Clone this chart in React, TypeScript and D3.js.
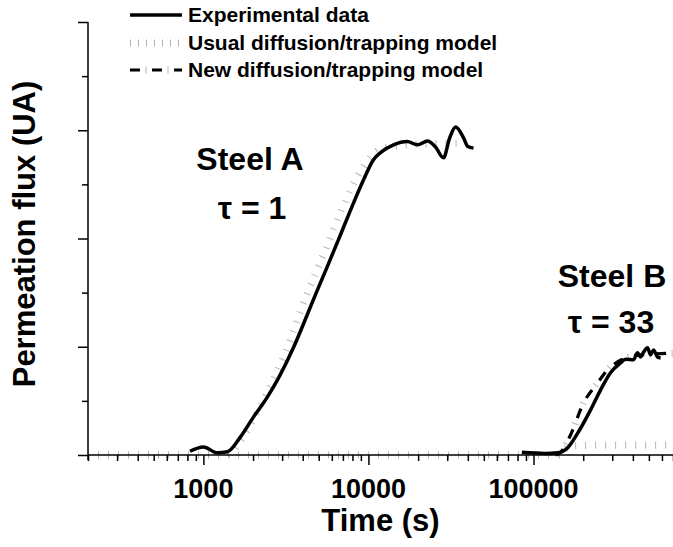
import React, { useRef, useEffect } from 'react';
import * as d3 from 'd3';

// Steel A, experimental permeation flux
const steelATime = [830, 1000, 1215, 1400, 1675, 2010, 2440, 2850, 3510, 4270, 4770, 5650, 6770, 7780, 9330, 10700, 12000, 14200, 17200, 19800, 22800, 25500, 28500, 31000, 33700, 37700, 40000, 43300];
const steelAFlux = [0.07, 0.15, 0.04, 0.06, 0.33, 0.7, 1.07, 1.42, 1.98, 2.6, 2.96, 3.49, 4.07, 4.52, 5.08, 5.45, 5.6, 5.73, 5.79, 5.73, 5.8, 5.69, 5.49, 5.85, 6.06, 5.86, 5.7, 5.67];

// Steel A, usual diffusion/trapping model
const usualATime = [200, 1360, 1800, 2380, 3140, 4150, 5490, 7260, 9200, 11830, 15630, 23770, 35080];
const usualAFlux = [0, 0, 0.4, 1.1, 1.9, 2.9, 3.8, 4.7, 5.3, 5.65, 5.72, 5.75, 5.76];

// Steel B, experimental
const steelBTime = [85000, 118000, 139800, 160600, 184800, 221400, 254600, 292900, 336700, 361100, 403700, 426800, 444900, 464100, 490700, 511700, 533700, 564300, 588900];
const steelBFlux = [0.05, 0.03, 0.04, 0.13, 0.4, 0.83, 1.2, 1.52, 1.7, 1.77, 1.76, 1.89, 1.81, 1.9, 1.98, 1.85, 1.94, 1.81, 1.79];

// Steel B, usual model
const usualBTime = [200, 140000, 156300, 179900, 254600, 700000];
const usualBFlux = [0, 0, 0.12, 0.17, 0.18, 0.18];

// Steel B, new model
const newBTime = [135800, 145700, 167600, 200900, 244300, 280700, 336700, 444900, 700000];
const newBFlux = [0, 0.05, 0.37, 0.96, 1.33, 1.57, 1.75, 1.85, 1.88];

const xTickLabels = [1000, 10000, 100000];
const legendLabels = ['Experimental data', 'Usual diffusion/trapping model', 'New diffusion/trapping model'];

const font = '"Liberation Sans", Arial, sans-serif';

const zip = (t: number[], v: number[]) => t.map((d, i) => ({ t: d, v: v[i] }));

const App = () => {
    const svgRef = useRef<SVGSVGElement>(null);

    useEffect(() => {
        const svg = d3.select(svgRef.current);
        svg.selectAll('*').remove();

        const left = 88, right = 673, top = 22, bottom = 455;

        const x = d3.scaleLog().domain([200, 700000]).range([left, right]);
        const y = d3.scaleLinear().domain([0, 8]).range([bottom, top]);

        const line = d3.line<{ t: number; v: number }>()
            .x(d => x(d.t))
            .y(d => y(d.v))
            .curve(d3.curveMonotoneX);

        // usual model: grey ticks
        const drawUsual = (data: { t: number; v: number }[]) => {
            svg.append('path')
                .datum(data)
                .attr('fill', 'none')
                .attr('stroke', '#b4b4b4')
                .attr('stroke-width', 7)
                .attr('stroke-dasharray', '1 9')
                .attr('d', line);
        };
        drawUsual(zip(usualATime, usualAFlux));
        drawUsual(zip(usualBTime, usualBFlux));

        // new model: black dashes + grey dots
        const drawNew = (g: any, data: any, gen: any) => {
            g.append('path')
                .datum(data)
                .attr('fill', 'none')
                .attr('stroke', '#b4b4b4')
                .attr('stroke-width', 7)
                .attr('stroke-dasharray', '1 21')
                .attr('stroke-dashoffset', -15.5)
                .attr('d', gen);
            g.append('path')
                .datum(data)
                .attr('fill', 'none')
                .attr('stroke', '#000')
                .attr('stroke-width', 3.2)
                .attr('stroke-dasharray', '10 12')
                .attr('d', gen);
        };
        drawNew(svg, zip(newBTime, newBFlux), line);

        // experimental data
        [zip(steelATime, steelAFlux), zip(steelBTime, steelBFlux)].forEach(data => {
            svg.append('path')
                .datum(data)
                .attr('fill', 'none')
                .attr('stroke', '#000')
                .attr('stroke-width', 3.5)
                .attr('stroke-linejoin', 'round')
                .attr('d', line);
        });

        // axes
        const xAxis = svg.append('g').attr('transform', `translate(0,${bottom})`);
        xAxis.call(
            d3.axisBottom(x)
                .tickValues(x.ticks().filter(d => d >= 200))
                .tickSize(6)
                .tickFormat(() => '')
        );
        xAxis.selectAll('.tick line')
            .attr('y2', (d: any) => (xTickLabels.includes(d) ? 10 : 6))
            .attr('stroke-width', 1.5);
        xAxis.select('.domain').attr('stroke-width', 1.5).attr('d', `M${left},0H${right}`);

        svg.selectAll('.xlbl')
            .data(xTickLabels)
            .enter().append('text')
            .attr('x', d => x(d))
            .attr('y', bottom + 43)
            .attr('text-anchor', 'middle')
            .attr('fill', '#000')
            .attr('font-family', font)
            .attr('font-weight', 'bold')
            .attr('font-size', 27)
            .text(d => String(d));

        const yAxis = svg.append('g').attr('transform', `translate(${left},0)`);
        yAxis.call(
            d3.axisLeft(y)
                .tickValues(d3.range(0, 9, 1))
                .tickSize(6)
                .tickFormat(() => '')
        );
        yAxis.selectAll('.tick line')
            .attr('x2', (d: any) => (d % 2 === 0 ? -10 : -6))
            .attr('stroke-width', 1.5);
        yAxis.select('.domain').attr('stroke-width', 1.5).attr('d', `M0,${top}V${bottom + 5}`);

        // axis titles
        svg.append('text')
            .attr('x', (left + right) / 2)
            .attr('y', 531)
            .attr('text-anchor', 'middle')
            .attr('font-family', font)
            .attr('font-weight', 'bold')
            .attr('font-size', 31)
            .text('Time (s)');

        svg.append('text')
            .attr('transform', `translate(35,234) rotate(-90)`)
            .attr('text-anchor', 'middle')
            .attr('font-family', font)
            .attr('font-weight', 'bold')
            .attr('font-size', 31)
            .text('Permeation flux (UA)');

        // annotations
        const note = (tx: number, ty: number, s: string) => {
            svg.append('text')
                .attr('x', tx)
                .attr('y', ty)
                .attr('text-anchor', 'middle')
                .attr('font-family', font)
                .attr('font-weight', 'bold')
                .attr('font-size', 32)
                .text(s);
        };
        note(250, 170, 'Steel A');
        note(252, 219, 'τ = 1');
        note(612, 287, 'Steel B');
        note(611, 333, 'τ = 33');

        // legend
        const lg = svg.append('g');
        const rows = [15, 43, 70];
        lg.append('line').attr('x1', 130).attr('x2', 182).attr('y1', rows[0]).attr('y2', rows[0])
            .attr('stroke', '#000').attr('stroke-width', 3.5);
        lg.append('line').attr('x1', 130).attr('x2', 182).attr('y1', rows[1]).attr('y2', rows[1])
            .attr('stroke', '#b4b4b4').attr('stroke-width', 7).attr('stroke-dasharray', '1 7');
        const lgLine = d3.line<[number, number]>();
        drawNew(lg, [[130, rows[2]], [182, rows[2]]], lgLine);

        lg.selectAll('.lt')
            .data(legendLabels)
            .enter().append('text')
            .attr('x', 188)
            .attr('y', (d, i) => rows[i] + 7)
            .attr('font-family', font)
            .attr('font-weight', 'bold')
            .attr('font-size', 21)
            .text(d => d);
    }, []);

    return (
        <svg
            ref={svgRef}
            width={673}
            height={547}
            style={{ position: 'absolute', left: 0, top: 0, background: '#fff' }}
        />
    );
};

export default App;
